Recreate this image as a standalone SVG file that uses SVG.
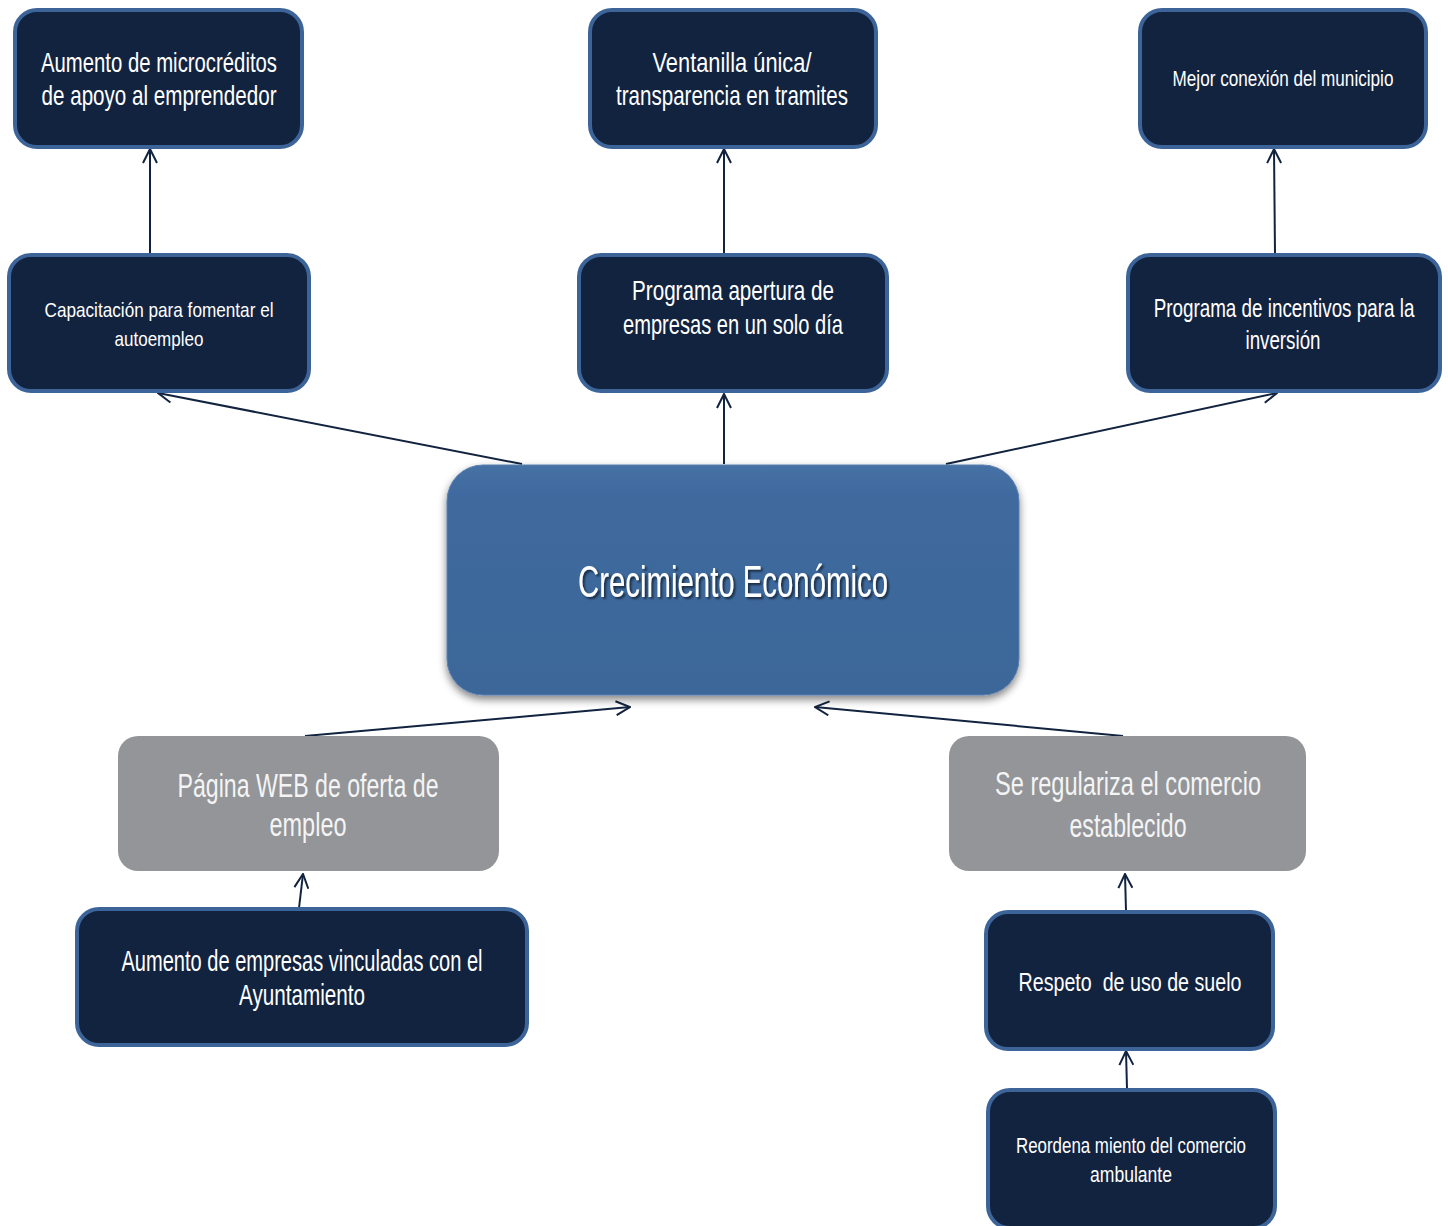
<svg xmlns="http://www.w3.org/2000/svg" width="1448" height="1226" viewBox="0 0 1448 1226">
<style>
.dark{fill:#12233f;stroke:#3d6499;stroke-width:4}
.gray{fill:#939598}
.t{font-family:"Liberation Sans",Arial,sans-serif;fill:#ffffff;text-anchor:middle}
.g{fill:#f4f4f4}
.c{fill:none;stroke:#12233f;stroke-width:2}
</style>
<defs>
<marker id="arr" viewBox="0 0 16 16" refX="15" refY="8" markerWidth="16" markerHeight="16" markerUnits="userSpaceOnUse" orient="auto">
<path d="M1,1 L15,8 L1,15" fill="none" stroke="#12233f" stroke-width="2"/>
</marker>
<linearGradient id="cg" x1="0" y1="0" x2="0" y2="1">
<stop offset="0" stop-color="#4670a5"/>
<stop offset="0.15" stop-color="#3f6a9e"/>
<stop offset="1" stop-color="#3c6699"/>
</linearGradient>
<filter id="sh" x="-10%" y="-10%" width="120%" height="130%">
<feGaussianBlur in="SourceAlpha" stdDeviation="4"/>
<feOffset dx="0" dy="4" result="b"/>
<feComponentTransfer><feFuncA type="linear" slope="0.5"/></feComponentTransfer>
<feMerge><feMergeNode/><feMergeNode in="SourceGraphic"/></feMerge>
</filter>
<filter id="tsh" x="-10%" y="-20%" width="120%" height="150%">
<feGaussianBlur in="SourceAlpha" stdDeviation="1"/>
<feOffset dx="2" dy="2"/>
<feComponentTransfer><feFuncA type="linear" slope="0.6"/></feComponentTransfer>
<feMerge><feMergeNode/><feMergeNode in="SourceGraphic"/></feMerge>
</filter>
</defs>
<rect width="1448" height="1226" fill="#ffffff"/>

<g id="connectors">
<line class="c" x1="150" y1="254" x2="150" y2="149" marker-end="url(#arr)"/>
<line class="c" x1="724" y1="254" x2="724" y2="149" marker-end="url(#arr)"/>
<line class="c" x1="1275" y1="254" x2="1274" y2="149" marker-end="url(#arr)"/>
<line class="c" x1="522" y1="464" x2="158" y2="393" marker-end="url(#arr)"/>
<line class="c" x1="724" y1="464" x2="724" y2="394" marker-end="url(#arr)"/>
<line class="c" x1="946" y1="464" x2="1277" y2="393" marker-end="url(#arr)"/>
<line class="c" x1="305" y1="736" x2="630" y2="707" marker-end="url(#arr)"/>
<line class="c" x1="1123" y1="736" x2="815" y2="707" marker-end="url(#arr)"/>
<line class="c" x1="299" y1="908" x2="303" y2="874" marker-end="url(#arr)"/>
<line class="c" x1="1126" y1="911" x2="1125" y2="874" marker-end="url(#arr)"/>
<line class="c" x1="1127" y1="1089" x2="1126" y2="1051" marker-end="url(#arr)"/>
</g>

<g id="n-microcreditos">
<rect class="dark" x="15" y="10" width="287" height="137" rx="22"/>
<text class="t" font-size="28"><tspan x="159" y="72" textLength="236" lengthAdjust="spacingAndGlyphs">Aumento de microcréditos</tspan><tspan x="159" y="105" textLength="235" lengthAdjust="spacingAndGlyphs">de apoyo al emprendedor</tspan></text>
</g>

<g id="n-ventanilla">
<rect class="dark" x="590" y="10" width="286" height="137" rx="22"/>
<text class="t" font-size="28"><tspan x="732" y="72" textLength="159" lengthAdjust="spacingAndGlyphs">Ventanilla única/</tspan><tspan x="732" y="105" textLength="232" lengthAdjust="spacingAndGlyphs">transparencia en tramites</tspan></text>
</g>

<g id="n-conexion">
<rect class="dark" x="1140" y="10" width="286" height="137" rx="22"/>
<text class="t" font-size="22" transform="translate(1283,86) scale(0.779,1)" x="0" y="0">Mejor conexión del municipio</text>
</g>

<g id="n-capacitacion">
<rect class="dark" x="9" y="255" width="300" height="136" rx="22"/>
<text class="t" font-size="21"><tspan x="159" y="317" textLength="229" lengthAdjust="spacingAndGlyphs">Capacitación para fomentar el</tspan><tspan x="159" y="346" textLength="89" lengthAdjust="spacingAndGlyphs">autoempleo</tspan></text>
</g>

<g id="n-apertura">
<rect class="dark" x="579" y="255" width="308" height="136" rx="22"/>
<text class="t" font-size="28"><tspan x="733" y="300" textLength="202" lengthAdjust="spacingAndGlyphs">Programa apertura de</tspan><tspan x="733" y="334" textLength="220" lengthAdjust="spacingAndGlyphs">empresas en un solo día</tspan></text>
</g>

<g id="n-incentivos">
<rect class="dark" x="1128" y="255" width="312" height="136" rx="22"/>
<text class="t" font-size="25" transform="translate(1284,317) scale(0.754,1)" x="0" y="0">Programa de incentivos para la</text>
<text class="t" font-size="25"><tspan x="1283" y="349" textLength="75" lengthAdjust="spacingAndGlyphs">inversión</tspan></text>
</g>

<g id="n-crecimiento">
<rect x="447" y="465" width="572" height="230" rx="36" fill="url(#cg)" stroke="#5a80b3" stroke-width="1" filter="url(#sh)"/>
<text class="t" font-size="44" filter="url(#tsh)"><tspan x="733" y="597" textLength="310" lengthAdjust="spacingAndGlyphs">Crecimiento Económico</tspan></text>
</g>

<g id="n-pagina-web">
<rect class="gray" x="118" y="736" width="381" height="135" rx="20"/>
<text class="t g" font-size="33"><tspan x="308" y="797" textLength="261" lengthAdjust="spacingAndGlyphs">Página WEB de oferta de</tspan><tspan x="308" y="836" textLength="77" lengthAdjust="spacingAndGlyphs">empleo</tspan></text>
</g>

<g id="n-regulariza">
<rect class="gray" x="949" y="736" width="357" height="135" rx="20"/>
<text class="t g" font-size="33"><tspan x="1128" y="795" textLength="266" lengthAdjust="spacingAndGlyphs">Se regulariza el comercio</tspan><tspan x="1128" y="837" textLength="117" lengthAdjust="spacingAndGlyphs">establecido</tspan></text>
</g>

<g id="n-empresas">
<rect class="dark" x="77" y="909" width="450" height="136" rx="22"/>
<text class="t" font-size="29"><tspan x="302" y="971" textLength="361" lengthAdjust="spacingAndGlyphs">Aumento de empresas vinculadas con el</tspan><tspan x="302" y="1005" textLength="126" lengthAdjust="spacingAndGlyphs">Ayuntamiento</tspan></text>
</g>

<g id="n-respeto">
<rect class="dark" x="986" y="912" width="287" height="137" rx="22"/>
<text class="t" font-size="25" xml:space="preserve"><tspan x="1130" y="991" textLength="223" lengthAdjust="spacingAndGlyphs">Respeto  de uso de suelo</tspan></text>
</g>

<g id="n-reordenamiento">
<rect class="dark" x="988" y="1090" width="287" height="138" rx="22"/>
<text class="t" font-size="22"><tspan x="1131" y="1153" textLength="230" lengthAdjust="spacingAndGlyphs">Reordena miento del comercio</tspan><tspan x="1131" y="1182" textLength="82" lengthAdjust="spacingAndGlyphs">ambulante</tspan></text>
</g>
</svg>
